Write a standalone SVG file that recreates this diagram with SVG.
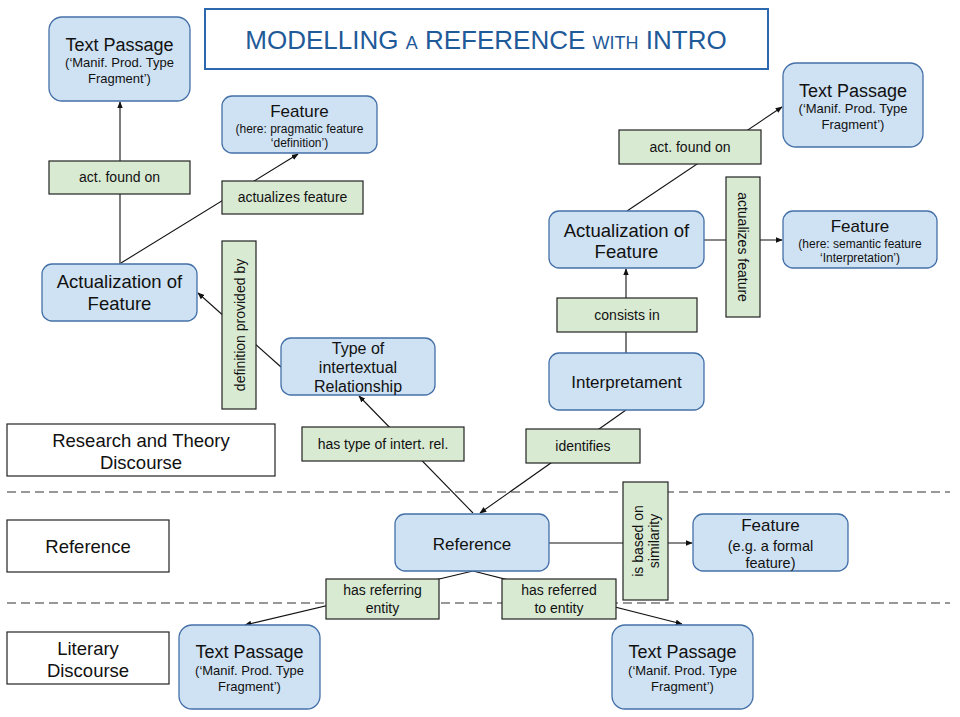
<svg xmlns="http://www.w3.org/2000/svg" width="960" height="717" viewBox="0 0 960 717">
<defs>
<style>
text{font-family:"Liberation Sans",Arial,sans-serif;fill:#111;text-anchor:middle}
.node{fill:#cfe2f3;stroke:#4470a8;stroke-width:1.3}
.lab{fill:#d9ead3;stroke:#222;stroke-width:1.2}
.side{fill:#fff;stroke:#222;stroke-width:1.2}
.edge{stroke:#111;stroke-width:1.1;fill:none;marker-end:url(#ah)}
.plain{stroke:#111;stroke-width:1.1;fill:none}
.dash{stroke:#333;stroke-width:1.2;stroke-dasharray:9 5}
.t18{font-size:18px}
.t17{font-size:17px}
.t16{font-size:16px}
.t14{font-size:14px}
.t13{font-size:13px}
.t12{font-size:12px}
.big{font-size:18.5px}
</style>
<marker id="ah" viewBox="0 0 10 10" refX="9" refY="5" markerWidth="7" markerHeight="7" markerUnits="userSpaceOnUse" orient="auto">
<path d="M0,1 L10,5 L0,9 z" fill="#111"/>
</marker>
</defs>
<rect width="960" height="717" fill="#fff"/>

<g id="title">
<rect x="205" y="9" width="563" height="60" fill="#fff" stroke="#2b68ad" stroke-width="2"/>
<text x="486" y="49" style="fill:#1f5a99;font-size:26px">MODELLING <tspan style="font-size:18px">A</tspan> REFERENCE <tspan style="font-size:18px">WITH</tspan> INTRO</text>
</g>

<g id="dividers">
<line class="dash" x1="7" y1="492" x2="950" y2="492"/>
<line class="dash" x1="7" y1="603" x2="950" y2="603"/>
</g>

<g id="connectors">
<line class="edge" x1="120" y1="264" x2="120" y2="102"/>
<line class="edge" x1="121" y1="263" x2="298" y2="154"/>
<line class="edge" x1="281" y1="367" x2="198" y2="293"/>
<line class="edge" x1="473" y1="513" x2="359" y2="396"/>
<line class="edge" x1="626" y1="410" x2="480" y2="513"/>
<line class="edge" x1="626" y1="353" x2="626" y2="269"/>
<line class="edge" x1="627" y1="211" x2="782" y2="107"/>
<line class="edge" x1="704" y1="240" x2="782" y2="240"/>
<line class="edge" x1="549" y1="543" x2="692" y2="543"/>
<line class="edge" x1="473" y1="571" x2="245" y2="625"/>
<line class="edge" x1="473" y1="571" x2="682" y2="624"/>

<g id="lbl-act-found-left">
<rect class="lab" x="49" y="161" width="141" height="33"/>
<text class="t14" x="119.5" y="182">act. found on</text>
</g>
<g id="lbl-actualizes-left">
<rect class="lab" x="222" y="181" width="141" height="33"/>
<text class="t14" x="292.5" y="202">actualizes feature</text>
</g>
<g id="lbl-definition">
<rect class="lab" x="222" y="241" width="34" height="168"/>
<text class="t14" transform="translate(239.5,325) rotate(-90)" x="0" y="5">definition provided by</text>
</g>
<g id="lbl-has-type">
<rect class="lab" x="302" y="427" width="162" height="34"/>
<text class="t14" x="383" y="449">has type of intert. rel.</text>
</g>
<g id="lbl-identifies">
<rect class="lab" x="526" y="429" width="114" height="34"/>
<text class="t14" x="583" y="451">identifies</text>
</g>
<g id="lbl-consists">
<rect class="lab" x="557" y="298" width="140" height="34"/>
<text class="t14" x="627" y="320">consists in</text>
</g>
<g id="lbl-act-found-right">
<rect class="lab" x="619" y="130" width="142" height="34"/>
<text class="t14" x="690" y="152">act. found on</text>
</g>
<g id="lbl-actualizes-right">
<rect class="lab" x="726" y="177" width="34" height="140"/>
<text class="t14" transform="translate(743,247) rotate(90)" x="0" y="5">actualizes feature</text>
</g>
<g id="lbl-similarity">
<rect class="lab" x="623" y="482" width="45" height="118"/>
<text class="t14" transform="translate(645.5,541) rotate(-90)" x="0" y="-3">is based on</text>
<text class="t14" transform="translate(645.5,541) rotate(-90)" x="0" y="13">similarity</text>
</g>
<g id="lbl-referring">
<rect class="lab" x="326" y="579" width="113" height="40"/>
<text class="t14" x="382.5" y="595">has referring</text>
<text class="t14" x="382.5" y="613">entity</text>
</g>
<g id="lbl-referred">
<rect class="lab" x="502" y="579" width="114" height="40"/>
<text class="t14" x="559" y="595">has referred</text>
<text class="t14" x="559" y="613">to entity</text>
</g>
</g>

<g id="tp-topleft">
<rect class="node" x="49" y="17" width="141" height="84" rx="13"/>
<text class="t18" x="119.5" y="51">Text Passage</text>
<text class="t13" x="119.5" y="67">(‘Manif. Prod. Type</text>
<text class="t13" x="119.5" y="83">Fragment’)</text>
</g>
<g id="feature-pragmatic">
<rect class="node" x="222" y="96" width="155" height="57" rx="10"/>
<text class="t17" x="299.5" y="117">Feature</text>
<text class="t12" x="299.5" y="133">(here: pragmatic feature</text>
<text class="t12" x="299.5" y="147">‘definition’)</text>
</g>
<g id="actualization-left">
<rect class="node" x="42" y="264" width="155" height="57" rx="10"/>
<text class="big" x="119.5" y="288">Actualization of</text>
<text class="big" x="119.5" y="310">Feature</text>
</g>
<g id="type-relationship">
<rect class="node" x="281" y="338" width="154" height="57" rx="10"/>
<text class="t16" x="358" y="354">Type of</text>
<text class="t16" x="358" y="373">intertextual</text>
<text class="t16" x="358" y="392">Relationship</text>
</g>
<g id="tp-topright">
<rect class="node" x="783" y="63" width="140" height="84" rx="13"/>
<text class="t18" x="853" y="97">Text Passage</text>
<text class="t13" x="853" y="113">(‘Manif. Prod. Type</text>
<text class="t13" x="853" y="129">Fragment’)</text>
</g>
<g id="actualization-right">
<rect class="node" x="549" y="211" width="155" height="57" rx="10"/>
<text class="big" x="626.5" y="237">Actualization of</text>
<text class="big" x="626.5" y="258">Feature</text>
</g>
<g id="feature-semantic">
<rect class="node" x="783" y="211" width="154" height="57" rx="10"/>
<text class="t17" x="860" y="232">Feature</text>
<text class="t12" x="860" y="248">(here: semantic feature</text>
<text class="t12" x="860" y="262">‘Interpretation’)</text>
</g>
<g id="interpretament">
<rect class="node" x="549" y="353" width="155" height="57" rx="10"/>
<text class="t17" x="626.5" y="388">Interpretament</text>
</g>
<g id="reference">
<rect class="node" x="395" y="514" width="154" height="57" rx="10"/>
<text class="t17" x="472" y="550">Reference</text>
</g>
<g id="feature-formal">
<rect class="node" x="693" y="514" width="155" height="57" rx="10"/>
<text class="t17" x="770.5" y="531">Feature</text>
<text style="font-size:14.5px" x="770.5" y="551">(e.g. a formal</text>
<text style="font-size:14.5px" x="770.5" y="568">feature)</text>
</g>
<g id="tp-bottomleft">
<rect class="node" x="179" y="625" width="141" height="84" rx="13"/>
<text class="t18" x="249.5" y="658">Text Passage</text>
<text class="t13" x="249.5" y="675">(‘Manif. Prod. Type</text>
<text class="t13" x="249.5" y="691">Fragment’)</text>
</g>
<g id="tp-bottomright">
<rect class="node" x="612" y="625" width="141" height="84" rx="13"/>
<text class="t18" x="682.5" y="658">Text Passage</text>
<text class="t13" x="682.5" y="675">(‘Manif. Prod. Type</text>
<text class="t13" x="682.5" y="691">Fragment’)</text>
</g>

<g id="layer-research">
<rect class="side" x="7" y="424" width="268" height="52"/>
<text class="big" x="141" y="447">Research and Theory</text>
<text class="big" x="141" y="469">Discourse</text>
</g>
<g id="layer-reference">
<rect class="side" x="7" y="520" width="162" height="52"/>
<text class="big" x="88" y="553">Reference</text>
</g>
<g id="layer-literary">
<rect class="side" x="7" y="632" width="162" height="52"/>
<text class="big" x="88" y="655">Literary</text>
<text class="big" x="88" y="677">Discourse</text>
</g>
</svg>
